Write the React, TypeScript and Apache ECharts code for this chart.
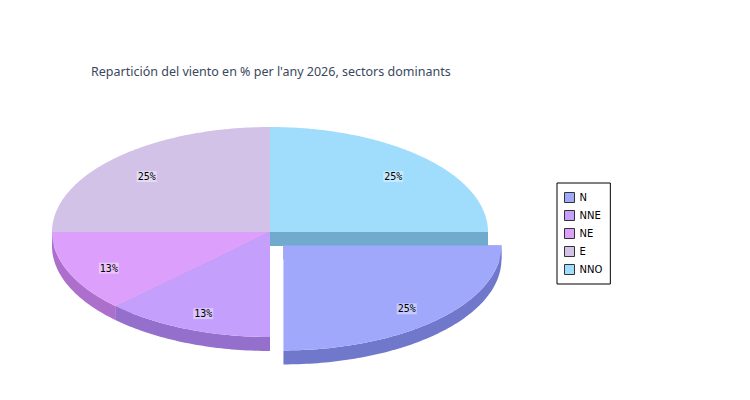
import { useEffect, useRef } from 'react';
import * as echarts from 'echarts';

// wind sectors and their share in %
const sectors = ['N', 'NNE', 'NE', 'E', 'NNO'];
const shares = [25, 12.5, 12.5, 25, 25];
const topColors = ['#a0a8fc', '#c4a0fc', '#dca0fc', '#d2c2e8', '#a0dcfc'];
const sideColors = ['#7078cc', '#9470cc', '#ac70cc', '#a292b8', '#70aacc'];
const explodedSector = 'N';

const CX = 270;
const CY = 232;
const RX = 218;
const RY = 105;
const DEPTH = 14;
const EXPLODE = 19;
const LABEL_K = 0.8;
const LABEL_DY = 4;

const rad = (d: number) => (d * Math.PI) / 180;

function arcPoints(cx: number, cy: number, from: number, to: number, dy = 0) {
    const pts: number[][] = [];
    const n = Math.max(2, Math.ceil(Math.abs(from - to)));
    for (let i = 0; i <= n; i++) {
        const a = rad(from + ((to - from) * i) / n);
        pts.push([cx + RX * Math.cos(a), cy - RY * Math.sin(a) + dy]);
    }
    return pts;
}

export default function App() {
    const chartRef = useRef<HTMLDivElement>(null);

    useEffect(() => {
        if (!chartRef.current) return;
        const chart = echarts.init(chartRef.current, null, { renderer: 'svg' });

        const total = shares.reduce((s, v) => s + v, 0);

        const series = sectors.map((name, idx) => {
            const before = shares.slice(0, idx).reduce((s, v) => s + v, 0);
            return {
                name,
                type: 'custom',
                coordinateSystem: 'none',
                silent: true,
                itemStyle: { color: topColors[idx] },
                data: [[shares[idx]]],
                renderItem: (_params: any, api: any) => {
                    const value = api.value(0);
                    // clockwise from 3 o'clock
                    const start = (-360 * before) / total;
                    const end = start - (360 * value) / total;
                    const mid = (start + end) / 2;
                    let cx = CX;
                    let cy = CY;
                    if (name === explodedSector) {
                        cx += EXPLODE * Math.cos(rad(mid));
                        cy -= EXPLODE * Math.sin(rad(mid));
                    }
                    const children: any[] = [];

                    // radial cut faces
                    [start, end].forEach((a) => {
                        const px = cx + RX * Math.cos(rad(a));
                        const py = cy - RY * Math.sin(rad(a));
                        children.push({
                            type: 'polygon',
                            z2: 1,
                            shape: { points: [[cx, cy], [px, py], [px, py + DEPTH], [cx, cy + DEPTH]] },
                            style: { fill: sideColors[idx] },
                        });
                    });

                    // outer side, only the front half
                    const hi = Math.min(start, 0);
                    const lo = Math.max(end, -180);
                    if (hi > lo) {
                        const upper = arcPoints(cx, cy, hi, lo);
                        const lower = arcPoints(cx, cy, lo, hi, DEPTH);
                        children.push({
                            type: 'polygon',
                            z2: 2,
                            shape: { points: upper.concat(lower) },
                            style: { fill: sideColors[idx] },
                        });
                    }

                    // top face
                    children.push({
                        type: 'polygon',
                        z2: 3,
                        shape: { points: [[cx, cy]].concat(arcPoints(cx, cy, start, end)) },
                        style: { fill: topColors[idx] },
                    });

                    children.push({
                        type: 'text',
                        z2: 10,
                        x: cx + RX * LABEL_K * Math.cos(rad(mid)),
                        y: cy - RY * LABEL_K * Math.sin(rad(mid)) + LABEL_DY,
                        style: {
                            text: Math.round((value / total) * 100) + '%',
                            fill: '#000',
                            fontFamily: 'DejaVu Sans Mono',
                            fontSize: 10,
                            align: 'center',
                            verticalAlign: 'middle',
                            backgroundColor: 'rgba(255,255,255,0.4)',
                            padding: [1, 1, 0, 1],
                        },
                    });

                    return { type: 'group', children };
                },
            };
        });

        const option = {
            animation: false,
            backgroundColor: '#fff',
            title: {
                text: "Repartición del viento en % per l'any 2026, sectors dominants",
                left: 91,
                top: 65,
                padding: 0,
                textStyle: {
                    fontFamily: 'Noto Sans',
                    fontSize: 12.5,
                    fontWeight: 'normal',
                    color: '#3a4760',
                },
            },
            legend: {
                data: sectors,
                orient: 'vertical',
                left: 557,
                top: 183,
                padding: [9, 8, 9, 7],
                itemWidth: 10,
                itemHeight: 10,
                itemGap: 7,
                icon: 'rect',
                borderColor: '#000',
                borderWidth: 1,
                backgroundColor: '#fff',
                itemStyle: { borderColor: '#333', borderWidth: 1 },
                textStyle: {
                    fontFamily: 'DejaVu Sans',
                    fontSize: 10,
                    color: '#000',
                },
            },
            series,
        };

        chart.setOption(option as any);

        return () => {
            chart.dispose();
        };
    }, []);

    return (
        <div
            ref={chartRef}
            style={{ position: 'absolute', left: 0, top: 0, width: 750, height: 400 }}
        />
    );
}
